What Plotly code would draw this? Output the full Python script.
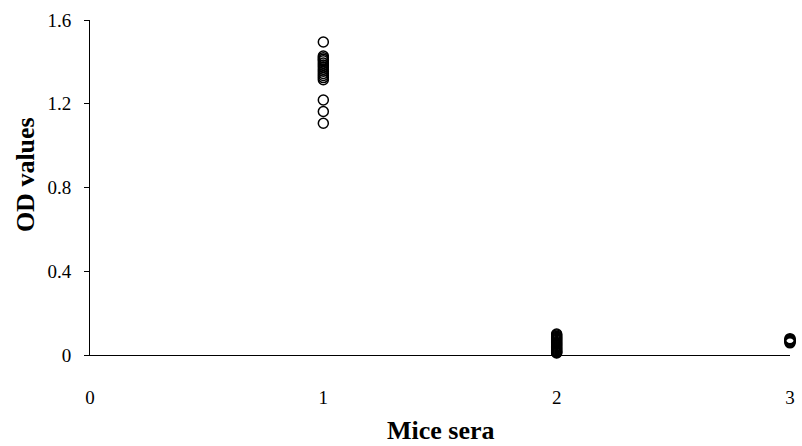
import plotly.graph_objects as go

group_x = [1, 2, 3]
od_group1 = [1.495, 1.428, 1.42, 1.412, 1.405, 1.395, 1.385, 1.375, 1.365, 1.355, 1.345, 1.335, 1.325, 1.315,
             1.218, 1.163, 1.107]
od_group2 = [0.1, 0.095, 0.09, 0.085, 0.08, 0.075, 0.07, 0.065, 0.06, 0.055, 0.05, 0.045, 0.04,
             0.035, 0.03, 0.025, 0.02, 0.015, 0.012, 0.01]
od_group3 = [0.078, 0.074, 0.07, 0.066, 0.062, 0.058]

xs = [group_x[0]] * len(od_group1) + [group_x[1]] * len(od_group2) + [group_x[2]] * len(od_group3)
ys = od_group1 + od_group2 + od_group3

fig = go.Figure()
fig.add_trace(go.Scatter(
    x=xs, y=ys, mode="markers",
    marker=dict(symbol="circle-open", size=10, color="black", line=dict(width=1.5, color="black")),
    cliponaxis=False, showlegend=False, hoverinfo="skip",
))

font_family = "Liberation Serif"
fig.update_layout(
    width=802, height=446,
    margin=dict(l=90, r=7, t=20, b=91),
    paper_bgcolor="white", plot_bgcolor="white",
    font=dict(family=font_family, color="black", size=18),
    xaxis=dict(
        range=[0, 3], tickvals=[0, 1, 2, 3], ticktext=["0", "1", "2", "3"],
        showgrid=False, zeroline=False, showline=True, linecolor="black", linewidth=1,
        ticks="", ticklabelstandoff=25,
        tickfont=dict(size=19, family=font_family, color="black"),
    ),
    yaxis=dict(
        range=[0, 1.6], tickvals=[0, 0.4, 0.8, 1.2, 1.6], ticktext=["0", "0.4", "0.8", "1.2", "1.6"],
        showgrid=False, zeroline=False, showline=True, linecolor="black", linewidth=1,
        ticks="outside", ticklen=5, tickcolor="black", tickwidth=1,
        ticklabelstandoff=9,
        tickfont=dict(size=19, family=font_family, color="black"),
    ),
    annotations=[
        dict(text="<b>OD values</b>", xref="paper", yref="paper", x=0, y=0.537,
             xanchor="center", yanchor="middle", xshift=-65, textangle=-90, showarrow=False,
             font=dict(size=26, family=font_family, color="black")),
        dict(text="<b>Mice sera</b>", xref="paper", yref="paper", x=0.502, y=0,
             xanchor="center", yanchor="middle", yshift=-75, showarrow=False,
             font=dict(size=26, family=font_family, color="black")),
    ],
)

fig.write_html("out.html", config={"displayModeBar": False},
               post_script="document.body.style.margin='0';")
